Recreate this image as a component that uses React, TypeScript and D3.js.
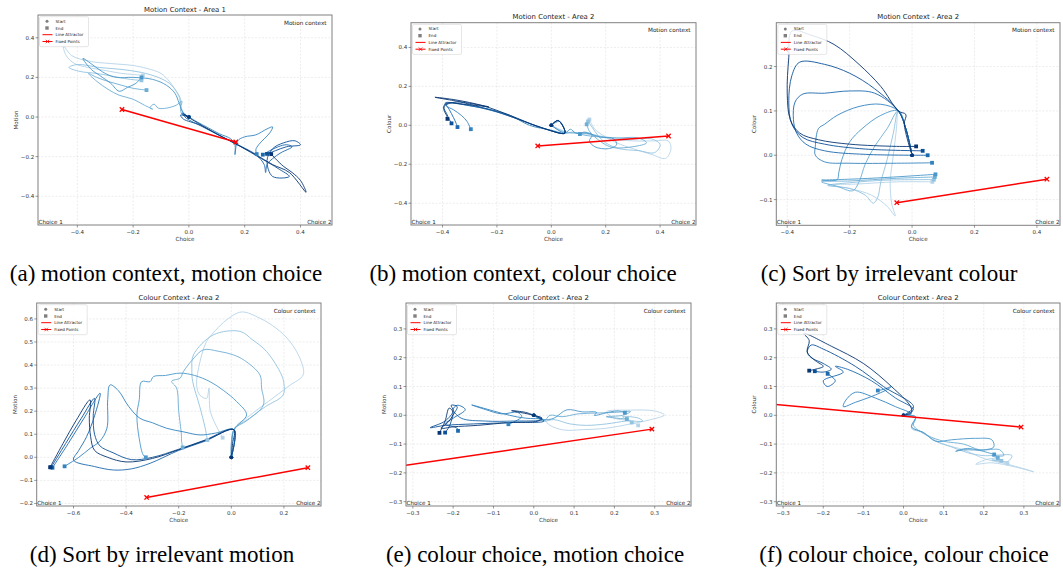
import React from "react";
import * as d3 from "d3";

type P = [number, number];

// Shade (Blues colormap position) of each trajectory, light -> dark
const shades = [0.3, 0.4, 0.5, 0.6, 0.68, 0.78, 0.88, 0.98];

// ---------- (a) Motion Context - Area 1 ----------
const trajA: P[][] = [
  [[0,0],[-0.02,0.025],[-0.03,0.06],[-0.035,0.1],[-0.05,0.14],[-0.07,0.18],[-0.1,0.22],[-0.15,0.245],[-0.2,0.26],[-0.28,0.27],[-0.35,0.28],[-0.42,0.31],[-0.45,0.36],[-0.44,0.31],[-0.41,0.27],[-0.36,0.25],[-0.3,0.235],[-0.24,0.22],[-0.2,0.215],[-0.165,0.21]],
  [[0,0],[-0.02,0.02],[-0.03,0.05],[-0.03,0.09],[-0.045,0.13],[-0.07,0.17],[-0.11,0.2],[-0.17,0.225],[-0.24,0.24],[-0.32,0.25],[-0.4,0.265],[-0.43,0.25],[-0.39,0.23],[-0.33,0.22],[-0.27,0.205],[-0.21,0.19],[-0.17,0.185]],
  [[0,0],[-0.025,0.015],[-0.03,0.045],[-0.025,0.08],[-0.045,0.06],[-0.08,0.045],[-0.11,0.045],[-0.125,0.065],[-0.14,0.045],[-0.13,0.04],[-0.16,0.06],[-0.2,0.09],[-0.25,0.11],[-0.29,0.14],[-0.33,0.18],[-0.36,0.22],[-0.33,0.2],[-0.29,0.18],[-0.24,0.16],[-0.2,0.145],[-0.152,0.136]],
  [[0,0],[-0.02,0.02],[-0.035,0.07],[-0.05,0.12],[-0.08,0.16],[-0.13,0.19],[-0.2,0.2],[-0.26,0.2],[-0.3,0.22],[-0.38,0.296],[-0.35,0.24],[-0.32,0.21],[-0.28,0.17],[-0.25,0.13],[-0.22,0.15],[-0.19,0.17],[-0.17,0.2]],
  [[0,0],[0.03,-0.025],[0.07,-0.055],[0.11,-0.085],[0.15,-0.11],[0.165,-0.14],[0.165,-0.19],[0.175,-0.12],[0.2,-0.1],[0.24,-0.09],[0.28,-0.06],[0.3,-0.05],[0.29,-0.08],[0.27,-0.11],[0.25,-0.14],[0.24,-0.165],[0.243,-0.187]],
  [[0,0],[-0.025,0.02],[-0.01,-0.005],[0.05,-0.05],[0.12,-0.1],[0.19,-0.15],[0.24,-0.19],[0.27,-0.24],[0.275,-0.28],[0.28,-0.24],[0.3,-0.21],[0.33,-0.18],[0.37,-0.15],[0.35,-0.14],[0.32,-0.15],[0.29,-0.17],[0.265,-0.19]],
  [[0,0],[-0.03,0.01],[-0.02,-0.01],[0.04,-0.04],[0.1,-0.085],[0.18,-0.145],[0.26,-0.21],[0.32,-0.26],[0.36,-0.3],[0.3,-0.3],[0.28,-0.22],[0.3,-0.16],[0.34,-0.13],[0.38,-0.12],[0.4,-0.14],[0.35,-0.15],[0.31,-0.17],[0.28,-0.186]],
  [[0,0],[-0.02,0.015],[0.02,-0.02],[0.08,-0.07],[0.16,-0.13],[0.24,-0.19],[0.3,-0.24],[0.36,-0.28],[0.42,-0.38],[0.4,-0.32],[0.37,-0.28],[0.34,-0.25],[0.31,-0.21],[0.295,-0.187]],
];
const attractorA: P[] = [[-0.24, 0.038], [0.168, -0.126]];

// ---------- (b) Motion Context - Area 2 ----------
const trajB: P[][] = [
  [[0,0],[0.03,-0.02],[0.06,-0.035],[0.1,-0.04],[0.15,-0.05],[0.22,-0.07],[0.3,-0.08],[0.38,-0.08],[0.43,-0.08],[0.44,-0.12],[0.42,-0.17],[0.37,-0.15],[0.3,-0.12],[0.24,-0.09],[0.2,-0.06],[0.16,-0.02],[0.14,0.03]],
  [[0,0],[0.04,-0.03],[0.07,-0.04],[0.12,-0.04],[0.2,-0.06],[0.3,-0.07],[0.37,-0.07],[0.4,-0.1],[0.38,-0.14],[0.32,-0.13],[0.25,-0.12],[0.2,-0.09],[0.17,-0.05],[0.15,-0.01],[0.135,0.02]],
  [[0,0],[0.05,-0.04],[0.08,-0.035],[0.12,-0.05],[0.18,-0.06],[0.24,-0.065],[0.32,-0.065],[0.35,-0.09],[0.3,-0.11],[0.23,-0.115],[0.2,-0.1],[0.16,-0.06],[0.14,-0.03],[0.13,0.005]],
  [[0,0],[0.05,-0.04],[0.07,-0.02],[0.09,-0.04],[0.13,-0.04],[0.18,-0.06],[0.23,-0.07],[0.24,-0.1],[0.21,-0.12],[0.16,-0.11],[0.14,-0.08],[0.15,-0.05],[0.12,-0.035],[0.105,-0.045]],
  [[0,0],[0.03,0.02],[0.05,-0.04],[0.0,-0.025],[-0.08,0.0],[-0.15,0.05],[-0.22,0.08],[-0.3,0.1],[-0.38,0.115],[-0.385,0.1],[-0.36,0.08],[-0.33,0.05],[-0.31,0.02],[-0.296,-0.02]],
  [[0,0],[0.025,0.025],[0.05,-0.04],[-0.02,-0.02],[-0.1,0.02],[-0.18,0.06],[-0.26,0.09],[-0.34,0.11],[-0.39,0.115],[-0.375,0.08],[-0.36,0.04],[-0.35,0.01],[-0.345,-0.009]],
  [[0,0],[0.025,0.025],[0.05,-0.04],[-0.03,-0.015],[-0.12,0.03],[-0.2,0.07],[-0.28,0.1],[-0.35,0.12],[-0.395,0.095],[-0.385,0.06],[-0.375,0.03],[-0.367,0.01]],
  [[0,0],[0.025,0.025],[0.05,-0.04],[-0.05,-0.005],[-0.15,0.05],[-0.25,0.1],[-0.35,0.13],[-0.428,0.144],[-0.33,0.12],[-0.23,0.095],[-0.3,0.105],[-0.39,0.11],[-0.395,0.08],[-0.385,0.05],[-0.382,0.033]],
];
const attractorB: P[] = [[-0.05, -0.106], [0.431, -0.055]];

// ---------- (c) Sort by irrelevant colour ----------
const trajC: P[][] = [
  [[0,0],[-0.02,0.06],[-0.044,0.1],[-0.05,0.06],[-0.06,0.0],[-0.07,-0.06],[-0.065,-0.11],[-0.054,-0.137],[-0.08,-0.115],[-0.13,-0.09],[-0.2,-0.075],[-0.27,-0.067],[-0.18,-0.065],[-0.05,-0.06],[0.065,-0.06]],
  [[0,0],[-0.02,0.06],[-0.044,0.1],[-0.06,0.05],[-0.08,-0.01],[-0.1,-0.06],[-0.11,-0.095],[-0.124,-0.108],[-0.15,-0.09],[-0.2,-0.075],[-0.27,-0.068],[-0.2,-0.062],[-0.08,-0.056],[0.07,-0.055]],
  [[0,0],[-0.02,0.06],[-0.044,0.1],[-0.08,0.06],[-0.12,0.02],[-0.15,-0.02],[-0.17,-0.06],[-0.19,-0.08],[-0.24,-0.07],[-0.29,-0.06],[-0.2,-0.058],[-0.05,-0.052],[0.073,-0.049]],
  [[0,0],[-0.02,0.06],[-0.044,0.1],[-0.1,0.09],[-0.16,0.06],[-0.2,0.03],[-0.225,-0.01],[-0.235,-0.04],[-0.24,-0.055],[-0.29,-0.056],[-0.2,-0.054],[-0.08,-0.05],[0.075,-0.043]],
  [[0,0],[-0.02,0.06],[-0.044,0.1],[-0.1,0.115],[-0.17,0.11],[-0.24,0.09],[-0.28,0.07],[-0.3,0.06],[-0.31,0.02],[-0.31,0.0],[-0.28,-0.015],[-0.2,-0.018],[-0.05,-0.018],[0.064,-0.017]],
  [[0,0],[-0.02,0.06],[-0.044,0.1],[-0.12,0.14],[-0.2,0.145],[-0.28,0.14],[-0.35,0.138],[-0.375,0.12],[-0.38,0.08],[-0.37,0.05],[-0.34,0.025],[-0.28,0.01],[-0.15,0.002],[0.05,0.0]],
  [[0,0],[-0.02,0.06],[-0.044,0.1],[-0.12,0.15],[-0.2,0.185],[-0.28,0.205],[-0.36,0.21],[-0.385,0.18],[-0.395,0.12],[-0.385,0.07],[-0.35,0.04],[-0.28,0.025],[-0.15,0.014],[0.034,0.01]],
  [[0,0],[-0.025,0.07],[-0.02,0.092],[-0.044,0.1],[-0.1,0.155],[-0.17,0.205],[-0.25,0.25],[-0.32,0.27],[-0.385,0.28],[-0.395,0.22],[-0.4,0.14],[-0.39,0.08],[-0.36,0.05],[-0.3,0.035],[-0.2,0.025],[-0.05,0.02],[0.013,0.02]],
];
const attractorC: P[] = [[-0.049, -0.107], [0.432, -0.054]];

// ---------- (d) Sort by irrelevant motion ----------
const trajD: P[][] = [
  [[0,0],[0.005,0.08],[0.01,0.12],[0.08,0.19],[0.15,0.25],[0.22,0.31],[0.273,0.357],[0.266,0.415],[0.223,0.502],[0.17,0.56],[0.109,0.603],[0.039,0.63],[-0.018,0.596],[-0.06,0.55],[-0.094,0.502],[-0.119,0.415],[-0.132,0.314],[-0.12,0.27],[-0.094,0.256],[-0.085,0.3],[-0.08,0.2],[-0.05,0.12],[-0.033,0.085]],
  [[0,0],[0.01,0.12],[0.07,0.17],[0.13,0.22],[0.197,0.27],[0.2,0.32],[0.191,0.357],[0.134,0.459],[0.08,0.51],[0.033,0.546],[-0.068,0.531],[-0.144,0.444],[-0.15,0.38],[-0.147,0.329],[-0.12,0.22],[-0.1,0.13],[-0.091,0.075]],
  [[0,0],[0.01,0.12],[0.06,0.16],[0.122,0.227],[0.115,0.3],[0.109,0.357],[0.05,0.42],[0.008,0.444],[-0.05,0.46],[-0.106,0.466],[-0.15,0.42],[-0.182,0.372],[-0.195,0.343],[-0.227,0.33],[-0.208,0.3],[-0.2,0.2],[-0.19,0.1],[-0.189,0.068],[-0.185,0.043]],
  [[0,0],[0.01,0.12],[0.058,0.184],[0.02,0.242],[-0.03,0.29],[-0.081,0.328],[-0.14,0.355],[-0.195,0.365],[-0.25,0.355],[-0.296,0.35],[-0.309,0.328],[-0.341,0.328],[-0.35,0.25],[-0.359,0.184],[-0.35,0.08],[-0.335,0.01],[-0.325,0.0]],
  [[0,0],[0.01,0.12],[-0.06,0.105],[-0.119,0.097],[-0.18,0.11],[-0.246,0.126],[-0.3,0.15],[-0.347,0.169],[-0.39,0.22],[-0.43,0.29],[-0.461,0.314],[-0.47,0.25],[-0.473,0.126],[-0.5,0.07],[-0.537,0.039],[-0.58,0.0],[-0.634,-0.039]],
  [[0,0],[0.01,0.12],[-0.1,0.07],[-0.2,0.03],[-0.309,-0.026],[-0.38,-0.05],[-0.448,-0.055],[-0.52,-0.04],[-0.6,-0.012],[-0.58,0.03],[-0.55,0.09],[-0.52,0.18],[-0.499,0.278],[-0.56,0.17],[-0.62,0.06],[-0.68,-0.045]],
  [[0,0],[0.01,0.12],[-0.1,0.075],[-0.2,0.035],[-0.3,0.0],[-0.38,-0.01],[-0.45,0.02],[-0.5,0.05],[-0.52,0.1],[-0.525,0.18],[-0.52,0.256],[-0.57,0.17],[-0.63,0.06],[-0.685,-0.043]],
  [[0,0],[0.005,0.06],[0.01,0.12],[-0.1,0.073],[-0.2,0.033],[-0.3,-0.005],[-0.4,-0.02],[-0.47,0.0],[-0.52,0.03],[-0.535,0.09],[-0.54,0.17],[-0.537,0.249],[-0.59,0.16],[-0.64,0.06],[-0.689,-0.043]],
];
const attractorD: P[] = [[-0.322, -0.174], [0.291, -0.045]];

// ---------- (e) colour choice, motion choice ----------
const trajE: P[][] = [
  [[0,0],[0.025,-0.015],[0.04,-0.035],[0.074,-0.051],[0.12,-0.05],[0.18,-0.045],[0.24,-0.03],[0.29,-0.015],[0.324,0.001],[0.3,0.015],[0.24,0.018],[0.18,0.012],[0.2,-0.01],[0.24,-0.02],[0.259,-0.035]],
  [[0,0],[0.025,-0.02],[0.05,-0.015],[0.09,-0.03],[0.13,-0.035],[0.18,-0.03],[0.23,-0.02],[0.27,-0.02],[0.26,-0.01],[0.22,-0.005],[0.24,-0.02],[0.243,-0.025]],
  [[0,0],[0.025,-0.02],[0.04,0.0],[0.07,-0.005],[0.11,0.005],[0.16,0.008],[0.2,0.01],[0.24,0.013],[0.22,0.0],[0.18,-0.005],[0.231,-0.013]],
  [[0,0],[0.025,-0.015],[0.05,-0.01],[0.082,0.019],[0.12,0.012],[0.156,0.01],[0.15,0.0],[0.19,0.012],[0.21,0.015],[0.226,0.009]],
  [[0,0],[0.02,-0.01],[-0.02,-0.01],[-0.06,0.0],[-0.1,0.015],[-0.154,0.036],[-0.12,0.02],[-0.08,0.005],[-0.04,0.01],[-0.03,-0.005],[-0.063,-0.031]],
  [[0,0],[0.02,-0.015],[-0.05,-0.02],[-0.12,-0.02],[-0.18,-0.01],[-0.2,0.02],[-0.19,0.035],[-0.17,0.02],[-0.2,-0.01],[-0.22,-0.03],[-0.19,-0.045],[-0.188,-0.054]],
  [[0,0],[0.025,-0.02],[-0.05,-0.025],[-0.15,-0.03],[-0.22,-0.035],[-0.257,-0.043],[-0.22,-0.02],[-0.2,0.015],[-0.205,0.035],[-0.19,0.03],[-0.2,0.0],[-0.21,-0.04],[-0.22,-0.06]],
  [[0,0],[-0.02,0.01],[-0.055,0.016],[0.0,0.0],[0.02,-0.01],[0.01,-0.02],[-0.06,-0.025],[-0.14,-0.035],[-0.2,-0.04],[-0.23,-0.045],[-0.21,-0.02],[-0.2,0.01],[-0.21,0.025],[-0.22,-0.02],[-0.234,-0.061]],
];
const attractorE: P[] = [[-0.33, -0.176], [0.293, -0.048]];

// ---------- (f) colour choice, colour choice ----------
const trajF: P[][] = [
  [[0,0],[0.03,-0.01],[0.02,-0.04],[0.04,-0.055],[0.07,-0.08],[0.1,-0.1],[0.15,-0.12],[0.2,-0.15],[0.26,-0.17],[0.324,-0.196],[0.28,-0.18],[0.22,-0.165],[0.18,-0.17],[0.22,-0.15],[0.259,-0.167]],
  [[0,0],[0.03,-0.01],[0.02,-0.045],[0.05,-0.06],[0.08,-0.09],[0.12,-0.11],[0.16,-0.13],[0.2,-0.14],[0.27,-0.14],[0.26,-0.16],[0.22,-0.155],[0.244,-0.158]],
  [[0,0],[0.03,-0.005],[0.025,-0.035],[0.06,-0.07],[0.1,-0.09],[0.15,-0.1],[0.19,-0.12],[0.24,-0.12],[0.25,-0.14],[0.22,-0.14],[0.235,-0.148]],
  [[0,0],[0.03,-0.005],[0.02,-0.04],[0.05,-0.06],[0.08,-0.09],[0.12,-0.085],[0.18,-0.08],[0.22,-0.085],[0.225,-0.11],[0.2,-0.12],[0.15,-0.12],[0.13,-0.125],[0.16,-0.115],[0.226,-0.136]],
  [[0,0],[0.02,0.005],[-0.02,0.03],[-0.07,0.06],[-0.12,0.08],[-0.145,0.05],[-0.15,0.03],[-0.12,0.045],[-0.08,0.065],[-0.04,0.09],[-0.03,0.1],[-0.05,0.09],[-0.064,0.086]],
  [[0,0],[0.025,0.02],[-0.02,0.06],[-0.08,0.12],[-0.14,0.16],[-0.17,0.17],[-0.15,0.15],[-0.2,0.12],[-0.19,0.1],[-0.17,0.12],[-0.189,0.144]],
  [[0,0],[0.025,0.03],[-0.05,0.1],[-0.12,0.17],[-0.2,0.23],[-0.23,0.244],[-0.24,0.22],[-0.23,0.2],[-0.2,0.18],[-0.18,0.16],[-0.2,0.15],[-0.221,0.153]],
  [[0,0],[0.02,0.01],[0.017,0.032],[-0.03,0.1],[-0.1,0.18],[-0.18,0.24],[-0.249,0.285],[-0.235,0.26],[-0.24,0.22],[-0.22,0.19],[-0.2,0.17],[-0.22,0.16],[-0.235,0.155]],
];
const attractorF: P[] = [[-0.33, 0.039], [0.293, -0.041]];

// Tick values
const ticksA_x = [-0.4, -0.2, 0, 0.2, 0.4];
const ticksA_y = [-0.4, -0.2, 0, 0.2, 0.4];
const ticksC_y = [-0.1, 0, 0.1, 0.2];
const ticksD_x = [-0.6, -0.4, -0.2, 0, 0.2];
const ticksD_y = [-0.2, -0.1, 0, 0.1, 0.2, 0.3, 0.4, 0.5, 0.6];
const ticksE = [-0.3, -0.2, -0.1, 0, 0.1, 0.2, 0.3];

const legendLabels = ["Start", "End", "Line Attractor", "Fixed Points"];

interface Cfg {
  id: string;
  title: string;
  ylabel: string;
  context: string;
  box: [number, number, number, number];
  xDomain: [number, number];
  yDomain: [number, number];
  xTicks: number[];
  yTicks: number[];
  traj: P[][];
  attractor: P[];
  caption: string;
  capX: number;
  capY: number;
}

const panels: Cfg[] = [
  { id: "a", title: "Motion Context - Area 1", ylabel: "Motion", context: "Motion context", box: [38, 15, 332, 225], xDomain: [-0.541, 0.513], yDomain: [-0.545, 0.515], xTicks: ticksA_x, yTicks: ticksA_y, traj: trajA, attractor: attractorA, caption: "(a) motion context, motion choice", capX: 166, capY: 281 },
  { id: "b", title: "Motion Context - Area 2", ylabel: "Colour", context: "Motion context", box: [411, 22.7, 696, 225], xDomain: [-0.516, 0.532], yDomain: [-0.512, 0.527], xTicks: ticksA_x, yTicks: ticksA_y, traj: trajB, attractor: attractorB, caption: "(b) motion context, colour choice", capX: 523, capY: 281 },
  { id: "c", title: "Motion Context - Area 2", ylabel: "Colour", context: "Motion context", box: [776.3, 22.7, 1060, 225.3], xDomain: [-0.435, 0.474], yDomain: [-0.158, 0.299], xTicks: ticksA_x, yTicks: ticksC_y, traj: trajC, attractor: attractorC, caption: "(c) Sort by irrelevant colour", capX: 889, capY: 281 },
  { id: "d", title: "Colour Context - Area 2", ylabel: "Motion", context: "Colour context", box: [36.7, 303, 321, 506], xDomain: [-0.74, 0.341], yDomain: [-0.211, 0.669], xTicks: ticksD_x, yTicks: ticksD_y, traj: trajD, attractor: attractorD, caption: "(d) Sort by irrelevant motion", capX: 162, capY: 562 },
  { id: "e", title: "Colour Context - Area 2", ylabel: "Motion", context: "Colour context", box: [406, 303, 691, 506], xDomain: [-0.317, 0.39], yDomain: [-0.315, 0.39], xTicks: ticksE, yTicks: ticksE, traj: trajE, attractor: attractorE, caption: "(e) colour choice, motion choice", capX: 535, capY: 562 },
  { id: "f", title: "Colour Context - Area 2", ylabel: "Colour", context: "Colour context", box: [776.3, 303, 1060, 506], xDomain: [-0.317, 0.39], yDomain: [-0.315, 0.39], xTicks: ticksE, yTicks: ticksE, traj: trajF, attractor: attractorF, caption: "(f) colour choice, colour choice", capX: 904, capY: 562 },
];

const SANS = "DejaVu Sans, sans-serif";
const fmt = d3.format(".1f");

function XMark({ x, y, s, color, w }: { x: number; y: number; s: number; color: string; w: number }) {
  return (
    <g stroke={color} strokeWidth={w}>
      <line x1={x - s} y1={y - s} x2={x + s} y2={y + s} />
      <line x1={x - s} y1={y + s} x2={x + s} y2={y - s} />
    </g>
  );
}

function Panel({ cfg }: { cfg: Cfg }) {
  const [x0, y0, x1, y1] = cfg.box;
  const xs = d3.scaleLinear().domain(cfg.xDomain).range([x0, x1]);
  const ys = d3.scaleLinear().domain(cfg.yDomain).range([y1, y0]);
  const line = d3
    .line<P>()
    .x((d) => xs(d[0]))
    .y((d) => ys(d[1]))
    .curve(d3.curveCatmullRom.alpha(0.5));
  const clipId = `clip-${cfg.id}`;
  const colors = shades.map((t) => d3.interpolateBlues(t));
  const lx = x0 + 1.5;
  const ly = y0 + 1.7;
  return (
    <g>
      <defs>
        <clipPath id={clipId}>
          <rect x={x0} y={y0} width={x1 - x0} height={y1 - y0} />
        </clipPath>
      </defs>
      {/* grid */}
      <g stroke="#b0b0b0" strokeOpacity={0.45} strokeWidth={0.5} strokeDasharray="2,1.5">
        {cfg.xTicks.map((t) => (
          <line key={"gx" + t} x1={xs(t)} x2={xs(t)} y1={y0} y2={y1} />
        ))}
        {cfg.yTicks.map((t) => (
          <line key={"gy" + t} x1={x0} x2={x1} y1={ys(t)} y2={ys(t)} />
        ))}
      </g>
      <g clipPath={`url(#${clipId})`}>
        {cfg.traj.map((tr, i) => (
          <path key={"t" + i} d={line(tr) || ""} fill="none" stroke={colors[i]} strokeWidth={0.9} />
        ))}
        {cfg.traj.map((tr, i) => {
          const s = tr[0];
          const e = tr[tr.length - 1];
          return (
            <g key={"m" + i} fill={colors[i]}>
              <circle cx={xs(s[0])} cy={ys(s[1])} r={1.8} />
              <rect x={xs(e[0]) - 1.9} y={ys(e[1]) - 1.9} width={3.8} height={3.8} />
            </g>
          );
        })}
        <line
          x1={xs(cfg.attractor[0][0])}
          y1={ys(cfg.attractor[0][1])}
          x2={xs(cfg.attractor[1][0])}
          y2={ys(cfg.attractor[1][1])}
          stroke="#ff0000"
          strokeWidth={1.5}
        />
        {cfg.attractor.map((p, i) => (
          <XMark key={"fp" + i} x={xs(p[0])} y={ys(p[1])} s={2.2} color="#ff0000" w={1.3} />
        ))}
      </g>
      {/* frame */}
      <rect x={x0} y={y0} width={x1 - x0} height={y1 - y0} fill="none" stroke="#808080" strokeWidth={1} />
      {/* ticks */}
      <g stroke="#555" strokeWidth={0.6}>
        {cfg.xTicks.map((t) => (
          <line key={"tx" + t} x1={xs(t)} x2={xs(t)} y1={y1} y2={y1 + 2.5} />
        ))}
        {cfg.yTicks.map((t) => (
          <line key={"ty" + t} x1={x0 - 2.5} x2={x0} y1={ys(t)} y2={ys(t)} />
        ))}
      </g>
      <g fontFamily={SANS} fontSize={5.5} fill="#333">
        {cfg.xTicks.map((t) => (
          <text key={"lx" + t} x={xs(t)} y={y1 + 8.8} textAnchor="middle">
            {fmt(t)}
          </text>
        ))}
        {cfg.yTicks.map((t) => (
          <text key={"ly" + t} x={x0 - 3.8} y={ys(t) + 2} textAnchor="end">
            {fmt(t)}
          </text>
        ))}
      </g>
      <text x={(x0 + x1) / 2} y={y0 - 3.5} textAnchor="middle" fontFamily={SANS} fontSize={6.9} fill="#222">
        {cfg.title}
      </text>
      <text x={(x0 + x1) / 2} y={y1 + 16} textAnchor="middle" fontFamily={SANS} fontSize={5.6} fill="#333">
        Choice
      </text>
      <text
        transform={`translate(${x0 - 20},${(y0 + y1) / 2}) rotate(-90)`}
        textAnchor="middle"
        fontFamily={SANS}
        fontSize={5.6}
        fill="#333"
      >
        {cfg.ylabel}
      </text>
      <text x={x1 - 5.5} y={y0 + 9.5} textAnchor="end" fontFamily={SANS} fontSize={5.7} fill="#222">
        {cfg.context}
      </text>
      <text x={x0 + 0.5} y={y1 - 1} fontFamily={SANS} fontSize={5.6} fill="#222">
        Choice 1
      </text>
      <text x={x1 - 0.5} y={y1 - 1} textAnchor="end" fontFamily={SANS} fontSize={5.6} fill="#222">
        Choice 2
      </text>
      {/* legend */}
      <g>
        <rect x={lx} y={ly} width={49} height={30} rx={1.5} fill="#fff" fillOpacity={0.85} stroke="#ccc" strokeWidth={0.5} />
        <circle cx={lx + 7.5} cy={ly + 4.5} r={1.5} fill="#7f7f7f" />
        <rect x={lx + 5.8} y={ly + 9.6} width={3.4} height={3.4} fill="#7f7f7f" />
        <line x1={lx + 3} x2={lx + 13} y1={ly + 18} y2={ly + 18} stroke="#ff0000" strokeWidth={1} />
        <line x1={lx + 3} x2={lx + 13} y1={ly + 24.8} y2={ly + 24.8} stroke="#ff0000" strokeWidth={1} />
        <XMark x={lx + 8} y={ly + 24.8} s={1.7} color="#ff0000" w={0.8} />
        <g fontFamily={SANS} fontSize={4.1} fill="#222">
          {legendLabels.map((l, i) => (
            <text key={l} x={lx + 16} y={ly + 6 + i * 6.8}>
              {l}
            </text>
          ))}
        </g>
      </g>
      <text x={cfg.capX} y={cfg.capY} textAnchor="middle" fontFamily="Liberation Serif, Times New Roman, serif" fontSize={23} fill="#000">
        {cfg.caption}
      </text>
    </g>
  );
}

export default function App() {
  return (
    <div style={{ position: "absolute", left: 0, top: 0 }}>
      <svg width={1063} height={572} style={{ display: "block", background: "#fff" }}>
        <rect x={0} y={0} width={1063} height={572} fill="#fff" />
        {panels.map((p) => (
          <Panel key={p.id} cfg={p} />
        ))}
      </svg>
    </div>
  );
}
